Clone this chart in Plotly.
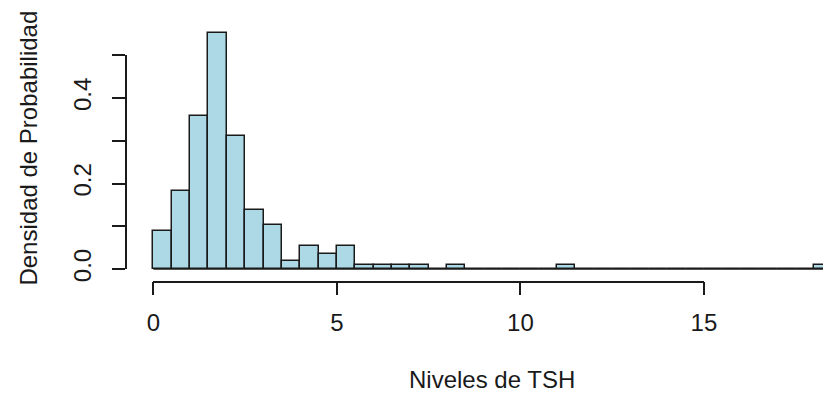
import plotly.graph_objects as go

# ---- data (bin width 0.5) ----
bin_left = [i * 0.5 for i in range(37)]  # 0.0 ... 18.0
density = [0.090, 0.183, 0.357, 0.551, 0.312, 0.137, 0.104, 0.020,
           0.054, 0.035, 0.054, 0.009, 0.009, 0.009, 0.009, 0.0,
           0.009, 0.0, 0.0, 0.0, 0.0, 0.0, 0.009, 0.0,
           0.0, 0.0, 0.0, 0.0, 0.0, 0.0, 0.0, 0.0,
           0.0, 0.0, 0.0, 0.0, 0.009]
BIN_W = 0.5
x_ticks = [0, 5, 10, 15]
x_tick_text = ["0", "5", "10", "15"]
y_ticks = [0.0, 0.1, 0.2, 0.3, 0.4, 0.5]
y_tick_text = ["0.0", "", "0.2", "", "0.4", ""]
x_title = "Niveles de TSH"
y_title = "Densidad de Probabilidad"

# ---- layout geometry (pixels) ----
W, H = 836, 406
X0_PX, PX_PER_X = 150, 37.6     # pixel of x=0, pixels per x unit
Y0_PX, PX_PER_Y = 278, 442      # pixel of y=0, pixels per y unit
XAXIS_LINE_PX = 290
YAXIS_LINE_PX = 123

FONT = "Liberation Sans, Arial, sans-serif"
TXT = "#1a1a1a"
FS = 24

fig = go.Figure()
fig.add_trace(go.Bar(
    x=bin_left, y=density, width=BIN_W, offset=0,
    marker=dict(color="#ADD8E6", line=dict(color="#1a1a1a", width=1.5)),
    hoverinfo="x+y", showlegend=False,
))
# baseline drawn by the zero-height bins in R
fig.add_trace(go.Scatter(
    x=[bin_left[0], bin_left[-1] + BIN_W], y=[0, 0], mode="lines",
    line=dict(color="#1a1a1a", width=1.5), hoverinfo="skip", showlegend=False,
))
# invisible helpers so the free-standing axes get drawn
fig.add_trace(go.Scatter(x=[x_ticks[0]], y=[0], xaxis="x2", yaxis="y2",
                         mode="markers", marker=dict(opacity=0),
                         hoverinfo="skip", showlegend=False))
fig.add_trace(go.Scatter(x=[0], y=[y_ticks[0]], xaxis="x3", yaxis="y3",
                         mode="markers", marker=dict(opacity=0),
                         hoverinfo="skip", showlegend=False))

x_range = [(0 - X0_PX) / PX_PER_X, (W - X0_PX) / PX_PER_X]
y_range = [(Y0_PX - H) / PX_PER_Y, Y0_PX / PX_PER_Y]

fig.update_layout(
    width=W, height=H,
    margin=dict(l=0, r=0, t=0, b=0),
    paper_bgcolor="white", plot_bgcolor="rgba(0,0,0,0)",
    font=dict(family=FONT, size=FS, color=TXT),
    bargap=0,
    xaxis=dict(domain=[0, 1], range=x_range, visible=False, fixedrange=True),
    yaxis=dict(domain=[0, 1], range=y_range, visible=False, fixedrange=True),
    # visible x axis (spans 0..15 only, like R)
    xaxis2=dict(
        domain=[X0_PX / W, (X0_PX + x_ticks[-1] * PX_PER_X) / W],
        range=[x_ticks[0], x_ticks[-1]], anchor="y2",
        showline=True, linecolor=TXT, linewidth=1.5,
        ticks="outside", ticklen=13, tickwidth=1.5, tickcolor=TXT,
        tickvals=x_ticks, ticktext=x_tick_text, showgrid=False, zeroline=False,
        tickfont=dict(size=FS, color=TXT), ticklabelstandoff=7, fixedrange=True,
    ),
    yaxis2=dict(domain=[(H - XAXIS_LINE_PX) / H, 1], anchor="x2", visible=False,
                range=[0, 1], fixedrange=True),
    # visible y axis (spans 0..0.5 only)
    yaxis3=dict(
        domain=[(H - Y0_PX) / H, (H - (Y0_PX - y_ticks[-1] * PX_PER_Y)) / H],
        range=[y_ticks[0], y_ticks[-1]], anchor="x3",
        showline=True, linecolor=TXT, linewidth=1.5,
        ticks="outside", ticklen=13, tickwidth=1.5, tickcolor=TXT,
        tickvals=y_ticks, ticktext=y_tick_text, tickangle=-90,
        showgrid=False, zeroline=False,
        tickfont=dict(size=FS, color=TXT), ticklabelstandoff=12, fixedrange=True,
    ),
    xaxis3=dict(domain=[YAXIS_LINE_PX / W, 1], anchor="y3", visible=False,
                range=[0, 1], fixedrange=True),
    annotations=[
        dict(text=x_title, xref="paper", yref="paper",
             x=497 / W, y=(H - 392) / H, xanchor="center", yanchor="middle",
             showarrow=False, font=dict(size=FS, color=TXT)),
        dict(text=y_title, xref="paper", yref="paper",
             x=22 / W, y=(H - 153) / H, xanchor="center", yanchor="middle",
             textangle=-90, showarrow=False, font=dict(size=FS, color=TXT)),
    ],
)

fig.write_html("out.html", config={"displayModeBar": False},
               post_script="document.body.style.margin='0';document.body.style.overflow='hidden';")
